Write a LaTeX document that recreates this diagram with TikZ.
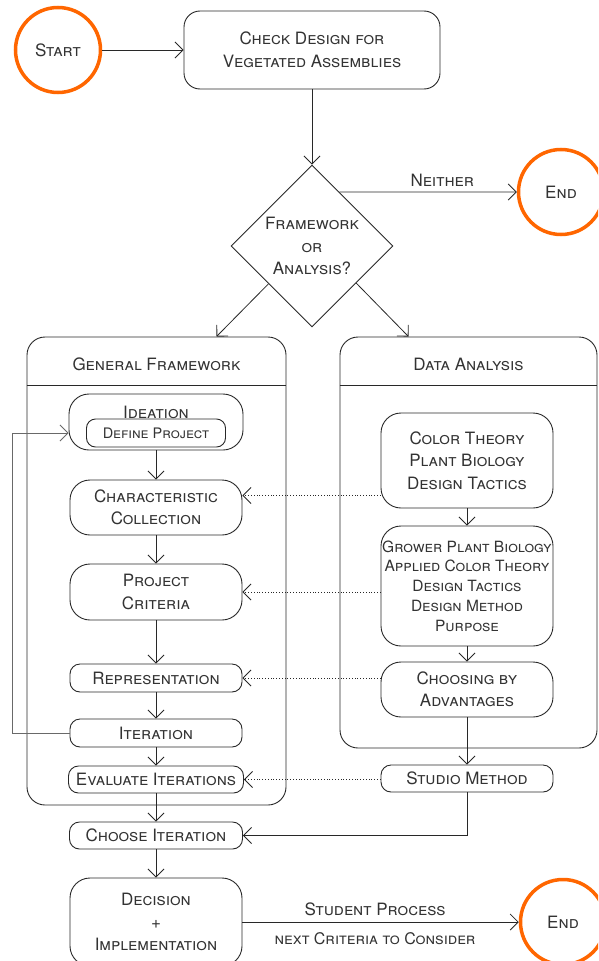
\documentclass[tikz,border=0pt]{standalone}
\usepackage{fontspec}
\setmainfont{TeX Gyre Heros}
\usetikzlibrary{arrows.meta, shapes.geometric, positioning}
\definecolor{orng}{RGB}{255,102,0}
\definecolor{txtc}{RGB}{51,51,51}
\definecolor{linec}{RGB}{40,40,40}
\definecolor{loopc}{RGB}{105,105,105}

\begin{document}
\begin{tikzpicture}[x=1pt, y=-1pt,
		every node/.style={font=\fontsize{17}{22.5}\selectfont\scshape, text=txtc, align=center},
		term/.style={circle, draw=orng, line width=3.5pt, minimum size=85pt, inner sep=0pt},
		box/.style={draw=linec, line width=0.9pt, rounded corners=10pt, inner sep=0pt, minimum width=172pt},
		pan/.style={draw=linec, line width=0.9pt, rounded corners=18pt, inner sep=0pt},
		flow/.style={draw=linec, line width=0.8pt, -{Straight Barb[length=8pt, width=16pt]}},
		feed/.style={flow, dotted}]
			\useasboundingbox (0,0) rectangle (598,961);
			\clip (0,0) rectangle (598,961);

			\node[term] (start) at (58,50) {Start};
			\node[box, minimum width=256pt, minimum height=78pt, rounded corners=16pt] (check) at (312,50) {Check Design for\\Vegetated Assemblies};
			\node[diamond, draw=linec, line width=0.9pt, minimum width=162pt, minimum height=162pt, inner sep=0pt, label={center:Framework\\or\\Analysis?}] (decide) at (312,246) {};
			\node[term] (end1) at (561,192) {End};

			\node[pan, minimum width=259pt, minimum height=468pt] (gf) at (156.5,571) {};
			\node (gfhead) at ([yshift=-28pt]gf.north) {General Framework};
			\draw[linec, line width=0.9pt] ([yshift=-49pt]gf.north west) -- ([yshift=-49pt]gf.north east);
			\node[pan, minimum width=257pt, minimum height=411pt] (da) at (468.5,542.5) {};
			\node (dahead) at ([yshift=-28pt]da.north) {Data Analysis};
			\draw[linec, line width=0.9pt] ([yshift=-49pt]da.north west) -- ([yshift=-49pt]da.north east);

			\node[box, minimum width=174pt, minimum height=56pt, rounded corners=20pt, label={[anchor=north, yshift=-12pt, inner sep=0pt]north:Ideation}] (idea) at (156,422) {};
			\node[box, minimum width=139pt, minimum height=28pt, rounded corners=9pt, font=\fontsize{14.5}{17}\selectfont\scshape] (define) at ([yshift=-11pt]idea.center) {Define Project};
			\node[box, minimum height=55pt, rounded corners=20pt] (cc) at (156,507.5) {Characteristic\\Collection};
			\node[box, minimum height=56pt, rounded corners=20pt] (pc) at (156,592) {Project\\Criteria};
			\node[box, minimum height=28pt] (rep) at (156,678) {Representation};
			\node[box, minimum height=28pt] (iter) at (156,733) {Iteration};
			\node[box, minimum width=175pt, minimum height=27pt] (eval) at (156,779.5) {Evaluate Iterations};
			\node[box, minimum width=173pt, minimum height=27pt] (choose) at (156,835.5) {Choose Iteration};
			\node[box, minimum height=88pt, rounded corners=20pt] (dec) at (156,922) {Decision\\+\\Implementation};
			\node[term] (end2) at (563,922) {End};

			\node[box, minimum height=95pt, rounded corners=20pt] (ct) at (467,460.5) {Color Theory\\Plant Biology\\Design Tactics};
			\node[box, minimum height=120pt, rounded corners=20pt, font=\fontsize{15.5}{19.8}\selectfont\scshape] (gr) at (467,586) {Grower Plant Biology\\Applied Color Theory\\Design Tactics\\Design Method\\Purpose};
			\node[box, minimum height=55pt, rounded corners=20pt] (cba) at (467,689.5) {Choosing by\\Advantages};
			\node[box, minimum height=27pt] (sm) at (467,778.5) {Studio Method};

			\draw[flow] (start) -- (check);
			\draw[flow] (check) -- (decide);
			\draw[flow] (decide.63.4) -- (end1.west) node[pos=0.58, above=5pt, inner sep=0pt] {Neither};
			\draw[flow] (decide.221.5) -- ([xshift=60pt]gf.north);
			\draw[flow] (decide.320) -- ([xshift=-60pt]da.north);

			\draw[flow] (idea) -- (cc);
			\draw[flow] (cc) -- (pc);
			\draw[flow] (pc) -- (rep);
			\draw[flow] (rep) -- (iter);
			\draw[flow] (iter) -- (eval);
			\draw[flow] (eval) -- (choose);
			\draw[flow] (choose) -- (dec);
			\draw[flow, draw=loopc] (iter.west) -- ++(-57,0) |- (define.west -| idea.west);

			\draw[flow] (ct) -- (gr);
			\draw[flow] (gr) -- (cba);
			\draw[flow] (cba) -- (sm);
			\draw[flow] (sm) |- (choose);

			\coordinate (ccin) at ([yshift=12pt]cc.east);
			\draw[feed] (ccin -| ct.west) -- (ccin);
			\draw[feed] (pc.east -| gr.west) -- (pc.east);
			\draw[feed] (rep.east -| cba.west) -- (rep.east);
			\draw[feed] (eval.east -| sm.west) -- (eval.east);

			\draw[flow] (dec) -- (end2) node[pos=0.48, above=6pt, inner sep=0pt] {Student Process} node[pos=0.48, below=10pt, inner sep=0pt, font=\fontsize{16}{19}\selectfont\scshape] {next Criteria to Consider};
		\end{tikzpicture}
\end{document}
